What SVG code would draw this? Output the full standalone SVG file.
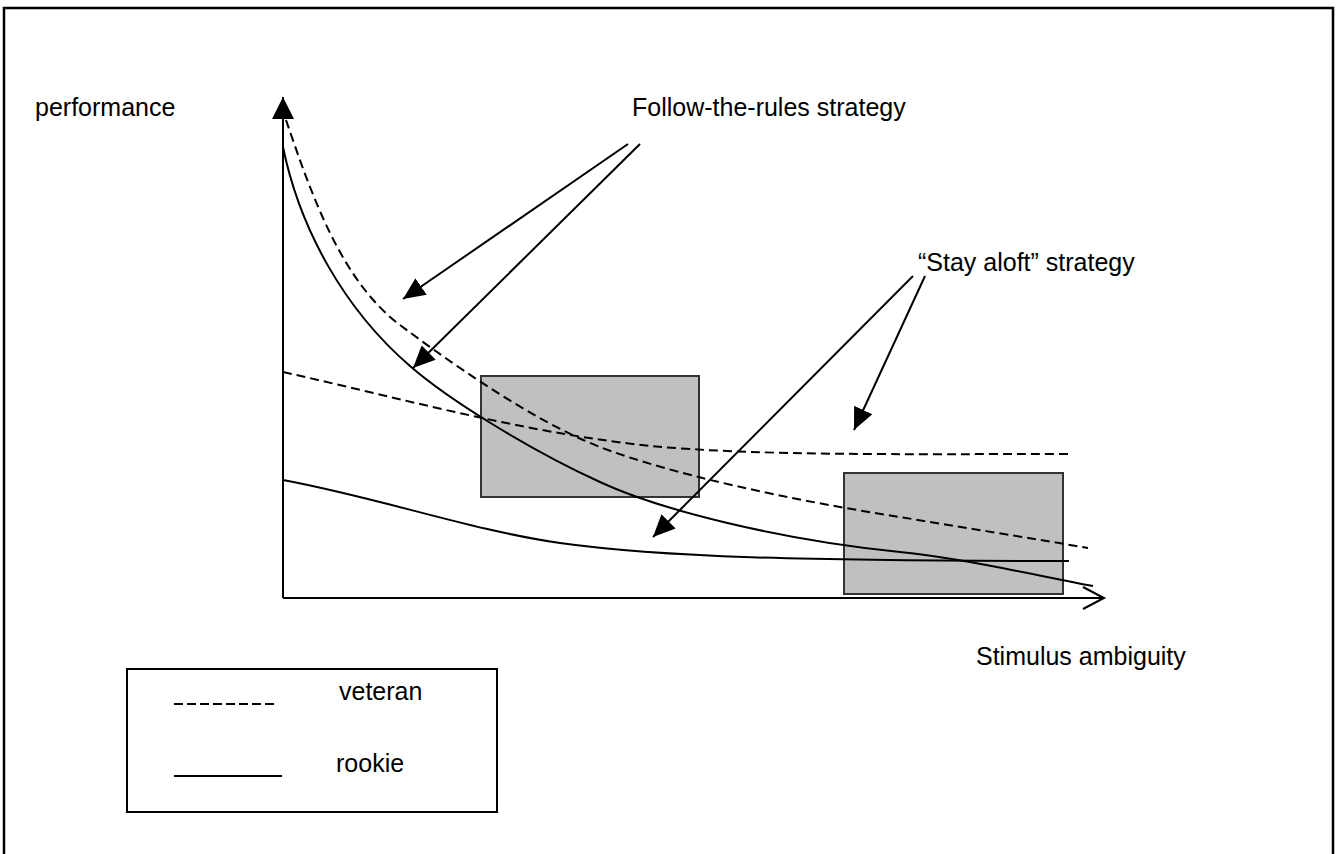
<svg xmlns="http://www.w3.org/2000/svg" width="1336" height="854" viewBox="0 0 1336 854">
<style>
.t{font-family:"Liberation Sans",Arial,sans-serif;font-size:25px;fill:#000}
.ln{fill:none;stroke:#000;stroke-width:2}
.dash{stroke-dasharray:9,5}
.box{fill:#c0c0c0;stroke:#333;stroke-width:2}
</style>
<defs>
<marker id="ah" markerWidth="22" markerHeight="20" refX="22" refY="10" orient="auto" markerUnits="userSpaceOnUse">
<path d="M0,0 L22,10 L0,20 z" fill="#000"/>
</marker>
<marker id="axh" markerWidth="22" markerHeight="22" refX="22" refY="11" orient="auto" markerUnits="userSpaceOnUse">
<path d="M0,0 L22,11 L0,22 z" fill="#000"/>
</marker>
</defs>
<rect x="4" y="8" width="1329" height="900" fill="#fff" stroke="#000" stroke-width="2.5"/>
<g id="region-boxes">
<rect id="box1" class="box" x="481" y="376" width="218" height="121"/>
<rect id="box2" class="box" x="844" y="473" width="219" height="121"/>
</g>
<g id="axes">
<line class="ln" x1="283" y1="598" x2="283" y2="97" marker-end="url(#axh)"/>
<line class="ln" x1="283" y1="598" x2="1104" y2="598"/>
<polyline class="ln" points="1083,587 1104,598 1083,609"/>
<text class="t" x="35" y="116">performance</text>
<text class="t" x="976" y="665">Stimulus ambiguity</text>
</g>
<g id="curves">
<path id="rookie-steep" class="ln" d="M283,147 C300,230 345,310 410,366 C449,400 530,450 600,482 C660,510 780,540 900,552 C960,558 1030,574 1093,586"/>
<path id="veteran-steep" class="ln dash" d="M286,120 C310,190 340,280 400,325 C440,355 530,420 600,447 C670,474 790,500 900,517 C960,527 1030,538 1088,548"/>
<path id="veteran-flat" class="ln dash" d="M283,372 C400,398 520,432 650,446 C760,456 900,454 1068,454"/>
<path id="rookie-flat" class="ln" d="M283,480 C380,498 470,530 560,543 C660,557 800,561 1069,561"/>
</g>
<g id="labels">
<text id="follow-label" class="t" x="632" y="116">Follow-the-rules strategy</text>
<text id="aloft-label" class="t" x="918" y="271">“Stay aloft” strategy</text>
</g>
<g id="connectors">
<line class="ln" x1="628" y1="144" x2="403" y2="299" marker-end="url(#ah)"/>
<line class="ln" x1="640" y1="144" x2="413" y2="368" marker-end="url(#ah)"/>
<line class="ln" x1="913" y1="276" x2="653" y2="537" marker-end="url(#ah)"/>
<line class="ln" x1="925" y1="276" x2="854" y2="430" marker-end="url(#ah)"/>
</g>
<g id="legend">
<rect x="127" y="669" width="370" height="143" fill="none" stroke="#000" stroke-width="2"/>
<line class="ln" x1="174" y1="704" x2="278" y2="704" stroke-dasharray="9,4"/>
<text class="t" x="339" y="700">veteran</text>
<line class="ln" x1="174" y1="776" x2="282" y2="776"/>
<text class="t" x="336" y="772">rookie</text>
</g>
</svg>
